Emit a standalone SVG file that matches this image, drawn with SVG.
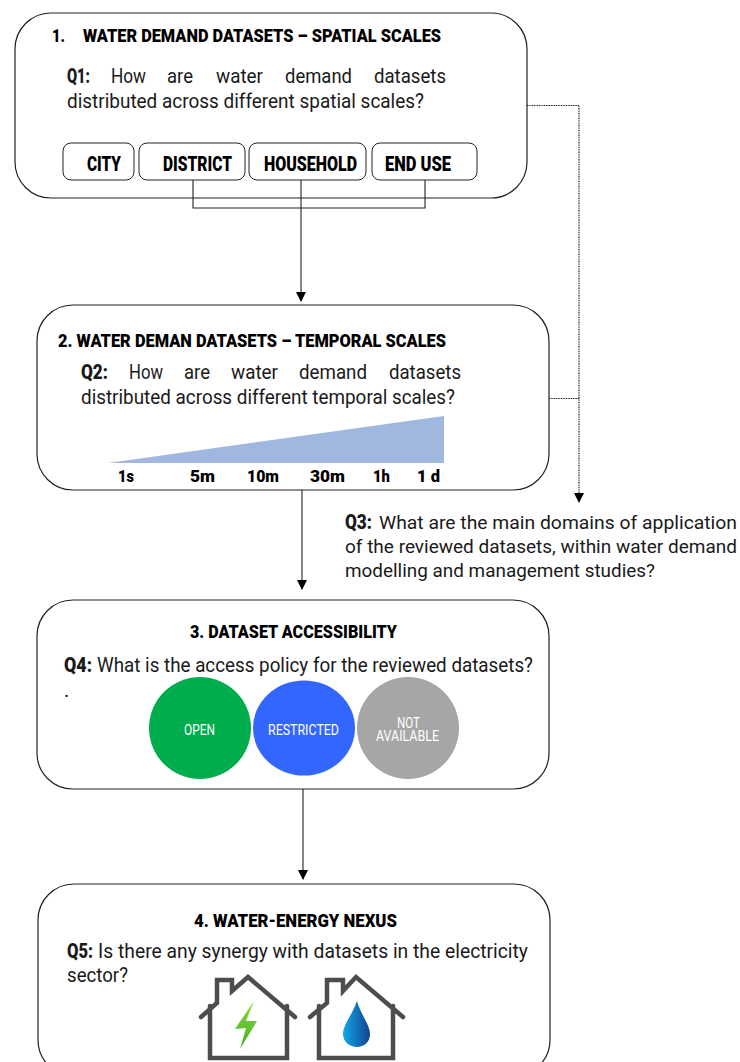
<svg xmlns="http://www.w3.org/2000/svg" width="740" height="1062" viewBox="0 0 740 1062">
<style>
text{font-family:"Roboto","Liberation Sans",sans-serif;fill:#1a1a1a}
.t{font-size:19px;font-weight:900;fill:#000}
.q{font-size:20px;font-weight:400}
.q3{font-size:18.500px;font-weight:400}
.qb{font-size:20px;font-weight:900}
.l{font-size:19.500px;font-weight:900;fill:#000}
.k{font-size:17px;font-weight:900;fill:#000}
.c{font-size:14.500px;font-weight:400;fill:#fff}
.box{fill:#fff;stroke:#222;stroke-width:1.2}
.sm{fill:#fff;stroke:#222;stroke-width:1}
.ln{fill:none;stroke:#222;stroke-width:1.1}
.dot{fill:none;stroke:#111;stroke-width:1.1;stroke-dasharray:1 .7}
.house{fill:none;stroke:#4d4d4d;stroke-width:4.500;stroke-linejoin:miter;stroke-linecap:round}
</style>
<defs>
<marker id="a" markerUnits="userSpaceOnUse" markerWidth="10" markerHeight="11" refX="9" refY="5" orient="auto"><path d="M0 0L10 5L0 10Z" fill="#000"/></marker>
<linearGradient id="dg" x1="0" x2="1" y1="0" y2="0"><stop offset="0" stop-color="#12a9e6"/><stop offset="1" stop-color="#12408f"/></linearGradient>
<linearGradient id="bg" x1="0" x2="0" y1="0" y2="1"><stop offset="0" stop-color="#8cdc3c"/><stop offset="1" stop-color="#3fae2a"/></linearGradient>
</defs>
<rect width="740" height="1062" fill="#fff"/>

<g id="node-1">
<rect class="box" x="15" y="13" width="512" height="185" rx="36"/>
<text class="t" x="52" y="42" textLength="13" lengthAdjust="spacingAndGlyphs">1.</text>
<text class="t" x="83" y="42" textLength="358" lengthAdjust="spacingAndGlyphs">WATER DEMAND DATASETS – SPATIAL SCALES</text>
<text class="qb" x="67" y="83" textLength="23" lengthAdjust="spacingAndGlyphs">Q1:</text>
<text class="q" x="111" y="83" textLength="35" lengthAdjust="spacingAndGlyphs">How</text>
<text class="q" x="167" y="83" textLength="26" lengthAdjust="spacingAndGlyphs">are</text>
<text class="q" x="216" y="83" textLength="47" lengthAdjust="spacingAndGlyphs">water</text>
<text class="q" x="285" y="83" textLength="67" lengthAdjust="spacingAndGlyphs">demand</text>
<text class="q" x="374" y="83" textLength="72" lengthAdjust="spacingAndGlyphs">datasets</text>
<text class="q" x="67" y="108" textLength="357" lengthAdjust="spacingAndGlyphs">distributed across different spatial scales?</text>
</g>
<g id="city"><rect class="sm" x="63" y="143" width="71" height="37" rx="8"/><text class="l" x="87" y="171" textLength="34" lengthAdjust="spacingAndGlyphs">CITY</text></g>
<g id="district"><rect class="sm" x="139" y="143" width="106" height="37" rx="8"/><text class="l" x="163" y="171" textLength="69" lengthAdjust="spacingAndGlyphs">DISTRICT</text></g>
<g id="household"><rect class="sm" x="249" y="143" width="117" height="37" rx="8"/><text class="l" x="264" y="171" textLength="93" lengthAdjust="spacingAndGlyphs">HOUSEHOLD</text></g>
<g id="end-use"><rect class="sm" x="372" y="143" width="105" height="37" rx="8"/><text class="l" x="385" y="171" textLength="66" lengthAdjust="spacingAndGlyphs">END USE</text></g>

<g id="node-2">
<rect class="box" x="37" y="305" width="512" height="185" rx="36"/>
<text class="t" x="58" y="347" textLength="388" lengthAdjust="spacingAndGlyphs">2. WATER DEMAN DATASETS – TEMPORAL SCALES</text>
<text class="qb" x="81" y="379" textLength="27" lengthAdjust="spacingAndGlyphs">Q2:</text>
<text class="q" x="129" y="379" textLength="34" lengthAdjust="spacingAndGlyphs">How</text>
<text class="q" x="184" y="379" textLength="26" lengthAdjust="spacingAndGlyphs">are</text>
<text class="q" x="231" y="379" textLength="47" lengthAdjust="spacingAndGlyphs">water</text>
<text class="q" x="299" y="379" textLength="68" lengthAdjust="spacingAndGlyphs">demand</text>
<text class="q" x="389" y="379" textLength="72" lengthAdjust="spacingAndGlyphs">datasets</text>
<text class="q" x="81" y="404" textLength="374" lengthAdjust="spacingAndGlyphs">distributed across different temporal scales?</text>
<path d="M108 463L444 416V463Z" fill="#a0b7e0"/>
<text class="k" x="118" y="482" textLength="16" lengthAdjust="spacingAndGlyphs">1s</text>
<text class="k" x="190" y="482" textLength="25" lengthAdjust="spacingAndGlyphs">5m</text>
<text class="k" x="247" y="482" textLength="32" lengthAdjust="spacingAndGlyphs">10m</text>
<text class="k" x="310" y="482" textLength="35" lengthAdjust="spacingAndGlyphs">30m</text>
<text class="k" x="373" y="482" textLength="17" lengthAdjust="spacingAndGlyphs">1h</text>
<text class="k" x="417" y="482" textLength="23" lengthAdjust="spacingAndGlyphs">1 d</text>
</g>

<g id="q3">
<text class="qb" x="345" y="529" textLength="27" lengthAdjust="spacingAndGlyphs">Q3:</text>
<text class="q3" x="379" y="529" textLength="358" lengthAdjust="spacingAndGlyphs">What are the main domains of application</text>
<text class="q3" x="345" y="553" textLength="392" lengthAdjust="spacingAndGlyphs">of the reviewed datasets, within water demand</text>
<text class="q3" x="345" y="577" textLength="310" lengthAdjust="spacingAndGlyphs">modelling and management studies?</text>
</g>

<g id="node-3">
<rect class="box" x="37" y="600" width="512" height="189" rx="36"/>
<text class="t" x="190" y="638" textLength="207" lengthAdjust="spacingAndGlyphs">3. DATASET ACCESSIBILITY</text>
<text class="qb" x="64" y="672" textLength="28" lengthAdjust="spacingAndGlyphs">Q4:</text>
<text class="q" x="97" y="672" textLength="436" lengthAdjust="spacingAndGlyphs">What is the access policy for the reviewed datasets?</text>
<text class="q" x="64" y="697">.</text>
</g>
<g id="open"><circle cx="200" cy="728" r="51" fill="#00ad4d"/><text class="c" x="184" y="735" textLength="31" lengthAdjust="spacingAndGlyphs">OPEN</text></g>
<g id="restricted"><ellipse cx="304" cy="728" rx="51" ry="47.500" fill="#3366ff"/><text class="c" x="268" y="735" textLength="71" lengthAdjust="spacingAndGlyphs">RESTRICTED</text></g>
<g id="not-available"><circle cx="408" cy="728" r="51" fill="#a6a6a6"/><text class="c" x="397" y="728" textLength="23" lengthAdjust="spacingAndGlyphs">NOT</text><text class="c" x="376" y="741" textLength="63" lengthAdjust="spacingAndGlyphs">AVAILABLE</text></g>

<g id="node-4">
<rect class="box" x="38" y="884" width="512" height="192" rx="36"/>
<text class="t" x="194" y="927" textLength="203" lengthAdjust="spacingAndGlyphs">4. WATER-ENERGY NEXUS</text>
<text class="qb" x="67" y="958" textLength="26" lengthAdjust="spacingAndGlyphs">Q5:</text>
<text class="q" x="98" y="958" textLength="430" lengthAdjust="spacingAndGlyphs">Is there any synergy with datasets in the electricity</text>
<text class="q" x="67" y="982" textLength="61" lengthAdjust="spacingAndGlyphs">sector?</text>
<path class="house" d="M201 1017L217 1003V980H232V991L248 977L295 1017M210 1006V1058H287V1006"/>
<path d="M254 1001L235 1029L246 1028L240 1049L257 1021L246 1021Z" fill="url(#bg)"/>
<path class="house" d="M310 1017L327 1003V980H343V991L356 977L403 1017M319 1006V1058H393V1006"/>
<path d="M357 1001C352 1015 343 1025 343 1034C343 1042 350 1047 357 1047C364 1047 370 1042 370 1034C370 1025 361 1015 357 1001Z" fill="url(#dg)"/>
</g>

<g id="connectors">
<path class="ln" d="M193 180V208H425V180"/>
<path class="ln" d="M301 180V301" marker-end="url(#a)"/>
<path class="ln" d="M302 490V589" marker-end="url(#a)"/>
<path class="ln" d="M303 789V879" marker-end="url(#a)"/>
<path class="dot" d="M527 105.500H579V502" marker-end="url(#a)"/>
<path class="dot" d="M549 398.500H579"/>
</g>
</svg>
